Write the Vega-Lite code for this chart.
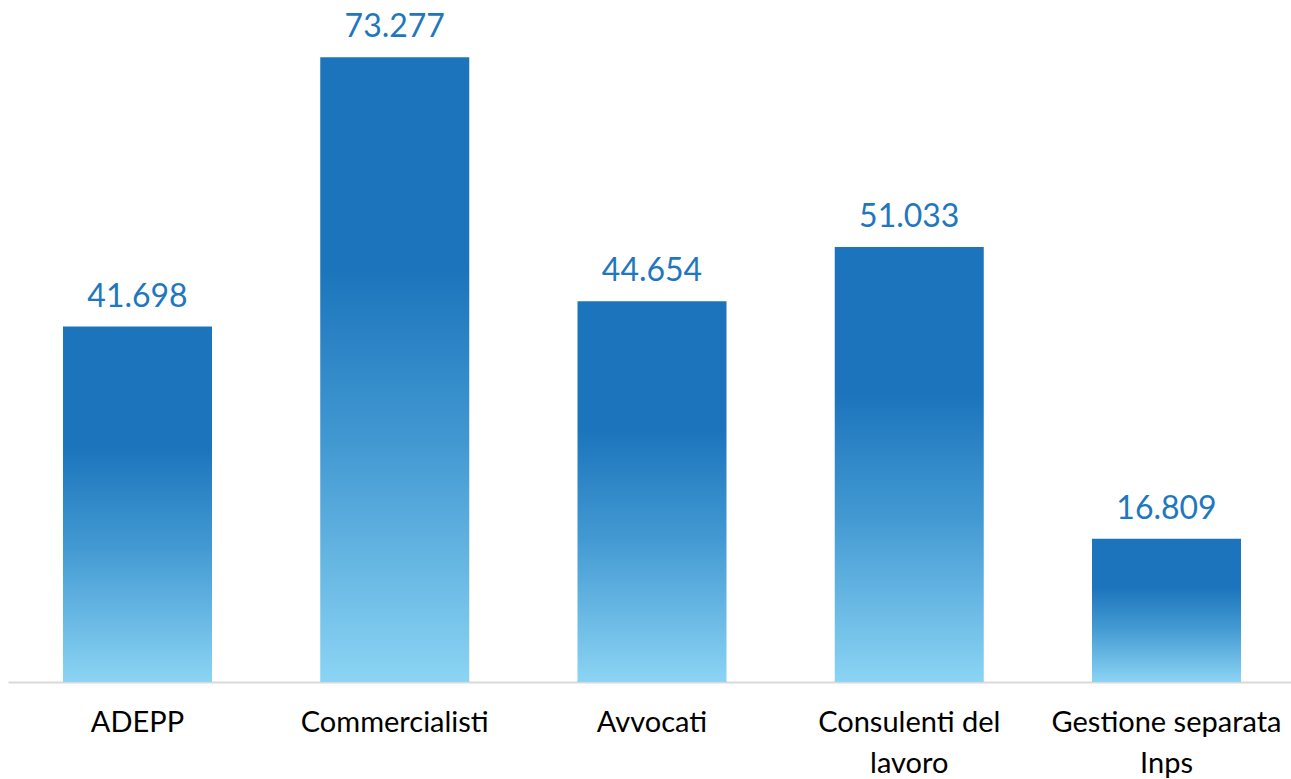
{
  "$schema": "https://vega.github.io/schema/vega-lite/v6.json",
  "width": 1283,
  "height": 682,
  "autosize": {"type": "none"},
  "padding": {"left": 8, "top": 0, "right": 0, "bottom": 97},
  "background": "white",
  "config": {
    "view": {"stroke": null},
    "font": "Lato",
    "locale": {"number": {"decimal": ",", "thousands": ".", "grouping": [3], "currency": ["€", ""]}}
  },
  "data": {
    "values": [
      {"cat": "ADEPP", "v": 41698},
      {"cat": "Commercialisti", "v": 73277},
      {"cat": "Avvocati", "v": 44654},
      {"cat": "Consulenti del lavoro", "v": 51033},
      {"cat": "Gestione separata Inps", "v": 16809}
    ]
  },
  "encoding": {
    "x": {
      "field": "cat", "type": "nominal", "sort": null,
      "scale": {"paddingInner": 0.4208, "paddingOuter": 0.2138, "range": [0, 1288]},
      "axis": {
        "title": null, "labelAngle": 0, "ticks": false,
        "domainColor": "#D9D9D9", "domainWidth": 2,
        "labelFontSize": 29, "labelColor": "#000000", "labelFont": "Lato",
        "labelPadding": 40, "labelLineHeight": 41, "labelBaseline": "middle",
        "labelLimit": 0,
        "labelExpr": "datum.label == 'Consulenti del lavoro' ? ['Consulenti del', 'lavoro'] : datum.label == 'Gestione separata Inps' ? ['Gestione separata', 'Inps'] : datum.label"
      }
    },
    "y": {
      "field": "v", "type": "quantitative",
      "scale": {"domain": [0, 80000], "nice": false},
      "axis": null
    }
  },
  "layer": [
    {
      "mark": {
        "type": "bar",
        "color": {
          "gradient": "linear", "x1": 0, "y1": 0, "x2": 0, "y2": 1,
          "stops": [
            {"offset": 0, "color": "#1C75BC"},
            {"offset": 0.34, "color": "#1C75BC"},
            {"offset": 0.62, "color": "#4299D2"},
            {"offset": 1, "color": "#8BD4F4"}
          ]
        }
      }
    },
    {
      "mark": {"type": "text", "fontSize": 32, "color": "#1F77BE", "baseline": "alphabetic", "dy": -20},
      "encoding": {"text": {"field": "v", "type": "quantitative", "format": ",d"}}
    }
  ]
}
